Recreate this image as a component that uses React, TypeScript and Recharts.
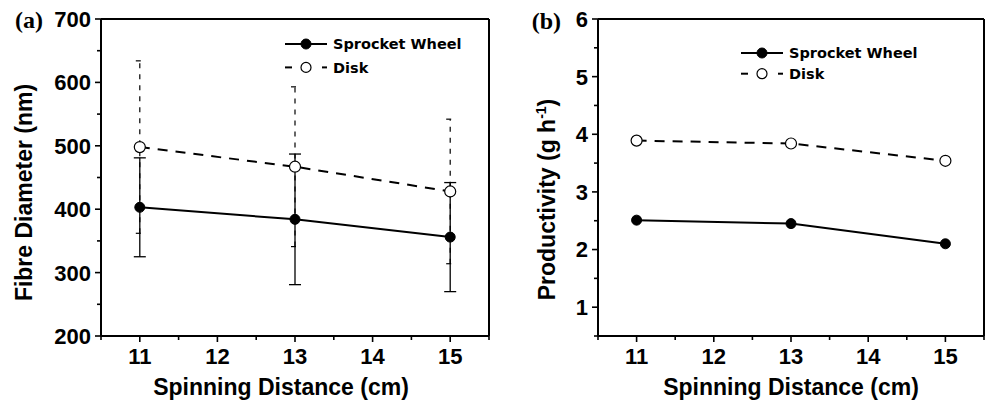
import React from 'react';
import { LineChart, Line, XAxis, YAxis, ErrorBar, Legend, Label, ReferenceLine } from 'recharts';

// ---- data ----
const distances = [11, 13, 15];
const sprocketDiameter = [403, 384, 356];
const sprocketDiameterErr = [78, 103, 86];
const diskDiameter = [498, 467, 428];
const diskDiameterErr = [136, 126, 114];
const sprocketProductivity = [2.51, 2.45, 2.1];
const diskProductivity = [3.89, 3.84, 3.54];

const distanceTicks = [10.5, 11, 11.5, 12, 12.5, 13, 13.5, 14, 14.5, 15, 15.5];
const distanceLabels = [11, 12, 13, 14, 15];
const diameterTicks = [200, 250, 300, 350, 400, 450, 500, 550, 600, 650, 700];
const diameterLabels = [200, 300, 400, 500, 600, 700];
const productivityTicks = [0.5, 1, 1.5, 2, 2.5, 3, 3.5, 4, 4.5, 5, 5.5, 6];
const productivityLabels = [1, 2, 3, 4, 5, 6];
const seriesNames = ['Sprocket Wheel', 'Disk'];

const diameterData = distances.map((x, i) => ({
  x,
  sprocket: sprocketDiameter[i],
  sprocketErr: sprocketDiameterErr[i],
  disk: diskDiameter[i],
  diskErr: diskDiameterErr[i],
}));
const productivityData = distances.map((x, i) => ({
  x,
  sprocket: sprocketProductivity[i],
  disk: diskProductivity[i],
}));

const SANS = '"Liberation Sans", Arial, sans-serif';
const SERIF = '"Liberation Serif", "Times New Roman", serif';
const LEG = '"DejaVu Sans", Verdana, sans-serif';

const makeXTick = (labels: number[]) => (props: any) => {
  const { x, y, payload } = props;
  const v = payload.value;
  const major = labels.includes(v);
  return (
    <g>
      <line x1={x} y1={y} x2={x} y2={y + (major ? 6 : 4)} stroke="#000" strokeWidth={1.6} />
      {major && (
        <text x={x} y={y + 27.5} textAnchor="middle" fontFamily={SANS} fontWeight="bold" fontSize={22} fill="#000">
          {v}
        </text>
      )}
    </g>
  );
};

const makeYTick = (labels: number[]) => (props: any) => {
  const { x, y, payload } = props;
  const v = payload.value;
  const major = labels.includes(v);
  return (
    <g>
      <line x1={x - (major ? 6 : 4)} y1={y} x2={x} y2={y} stroke="#000" strokeWidth={1.6} />
      {major && (
        <text x={x - 10} y={y} dy="0.36em" textAnchor="end" fontFamily={SANS} fontWeight="bold" fontSize={22} fill="#000">
          {v}
        </text>
      )}
    </g>
  );
};

const xTitle = (dx: number) => (props: any) => {
  const vb = props.viewBox;
  return (
    <text x={vb.x + vb.width / 2 + dx} y={vb.y + 59.3} textAnchor="middle" fontFamily={SANS} fontWeight="bold" fontSize={23} fill="#000">
      Spinning Distance (cm)
    </text>
  );
};

const yTitle = (x: number, dy: number, main: string, sup?: string, tail?: string) => (props: any) => {
  const vb = props.viewBox;
  const cy = vb.y + vb.height / 2 + dy;
  return (
    <text x={x} y={cy} transform={`rotate(-90 ${x} ${cy})`} textAnchor="middle" fontFamily={SANS} fontWeight="bold" fontSize={23} fill="#000">
      <tspan>{main}</tspan>
      {sup && (
        <tspan dy={-9} fontSize={14}>
          {sup}
        </tspan>
      )}
      {tail && <tspan dy={sup ? 9 : 0}>{tail}</tspan>}
    </text>
  );
};

const LegendBox = ({ rowGap }: { rowGap: number }) => (
  <svg width={210} height={60} style={{ display: 'block', overflow: 'visible' }}>
    <line x1={2} y1={12} x2={44} y2={12} stroke="#000" strokeWidth={2} />
    <circle cx={23} cy={12} r={5} fill="#000" stroke="#000" />
    <text x={50} y={12} dy="0.36em" fontFamily={LEG} fontWeight="bold" fontSize={14.5} fill="#000">
      {seriesNames[0]}
    </text>
    <line x1={2} y1={12 + rowGap} x2={9} y2={12 + rowGap} stroke="#000" strokeWidth={2} />
    <line x1={39} y1={12 + rowGap} x2={44} y2={12 + rowGap} stroke="#000" strokeWidth={2} />
    <circle cx={23} cy={12 + rowGap} r={5} fill="#fff" stroke="#000" strokeWidth={1.2} />
    <text x={50} y={12 + rowGap} dy="0.36em" fontFamily={LEG} fontWeight="bold" fontSize={14.5} fill="#000">
      {seriesNames[1]}
    </text>
  </svg>
);

const sprocketDot = { r: 5, fill: '#000', stroke: '#000', strokeWidth: 1, strokeDasharray: 'none' };
const diskDot = { r: 5.5, fill: '#fff', stroke: '#000', strokeWidth: 1.2, strokeDasharray: 'none' };

export default function App() {
  return (
    <div style={{ position: 'absolute', left: 0, top: 0, width: 987, height: 402, background: '#fff' }}>
      <div style={{ position: 'absolute', left: 0, top: 0 }}>
        <LineChart width={495} height={402} data={diameterData} margin={{ top: 19, right: 6, bottom: 0, left: 0 }}>
          <XAxis
            dataKey="x"
            type="number"
            domain={[10.5, 15.5]}
            ticks={distanceTicks}
            interval={0}
            height={66}
            tickSize={0}
            tickMargin={0}
            tickLine={false}
            axisLine={{ stroke: '#000', strokeWidth: 2 }}
            tick={makeXTick(distanceLabels)}
          >
            <Label content={xTitle(-14)} />
          </XAxis>
          <YAxis
            type="number"
            domain={[200, 700]}
            ticks={diameterTicks}
            interval={0}
            width={101}
            tickSize={0}
            tickMargin={0}
            tickLine={false}
            axisLine={{ stroke: '#000', strokeWidth: 2 }}
            tick={makeYTick(diameterLabels)}
          >
            <Label content={yTitle(31.7, 15, 'Fibre Diameter (nm)')} />
          </YAxis>
          <ReferenceLine y={700} stroke="#000" strokeWidth={2} ifOverflow="visible" />
          <ReferenceLine x={15.5} stroke="#000" strokeWidth={2} ifOverflow="visible" />
          <Legend
            layout="vertical"
            align="center"
            verticalAlign="middle"
            wrapperStyle={{ left: 283, top: 32, width: 210 }}
            content={() => <LegendBox rowGap={23.4} />}
          />
          <Line
            type="linear"
            dataKey="disk"
            name={seriesNames[1]}
            stroke="#000"
            strokeWidth={2}
            strokeDasharray="10 8"
            dot={diskDot}
            isAnimationActive={false}
          >
            <ErrorBar dataKey="diskErr" width={4} stroke="#000" strokeWidth={1.2} strokeDasharray="5 6" />
          </Line>
          <Line
            type="linear"
            dataKey="sprocket"
            name={seriesNames[0]}
            stroke="#000"
            strokeWidth={2}
            dot={sprocketDot}
            isAnimationActive={false}
          >
            <ErrorBar dataKey="sprocketErr" width={6} stroke="#000" strokeWidth={1.3} />
          </Line>
          <text x={15} y={28} fontFamily={SERIF} fontWeight="bold" fontSize={24} fill="#000">
            (a)
          </text>
        </LineChart>
      </div>
      <div style={{ position: 'absolute', left: 495, top: 0 }}>
        <LineChart width={492} height={402} data={productivityData} margin={{ top: 19, right: 3, bottom: 0, left: 0 }}>
          <XAxis
            dataKey="x"
            type="number"
            domain={[10.5, 15.5]}
            ticks={distanceTicks}
            interval={0}
            height={66}
            tickSize={0}
            tickMargin={0}
            tickLine={false}
            axisLine={{ stroke: '#000', strokeWidth: 2 }}
            tick={makeXTick(distanceLabels)}
          >
            <Label content={xTitle(0)} />
          </XAxis>
          <YAxis
            type="number"
            domain={[0.5, 6]}
            ticks={productivityTicks}
            interval={0}
            width={103}
            tickSize={0}
            tickMargin={0}
            tickLine={false}
            axisLine={{ stroke: '#000', strokeWidth: 2 }}
            tick={makeYTick(productivityLabels)}
          >
            <Label content={yTitle(60, 22, 'Productivity (g h', '-1', ')')} />
          </YAxis>
          <ReferenceLine y={6} stroke="#000" strokeWidth={2} ifOverflow="visible" />
          <ReferenceLine x={15.5} stroke="#000" strokeWidth={2} ifOverflow="visible" />
          <Legend
            layout="vertical"
            align="center"
            verticalAlign="middle"
            wrapperStyle={{ left: 244, top: 41, width: 210 }}
            content={() => <LegendBox rowGap={20.7} />}
          />
          <Line
            type="linear"
            dataKey="disk"
            name={seriesNames[1]}
            stroke="#000"
            strokeWidth={2}
            strokeDasharray="10 8"
            dot={diskDot}
            isAnimationActive={false}
          />
          <Line
            type="linear"
            dataKey="sprocket"
            name={seriesNames[0]}
            stroke="#000"
            strokeWidth={2}
            dot={sprocketDot}
            isAnimationActive={false}
          />
          <text x={36.7} y={29} fontFamily={SERIF} fontWeight="bold" fontSize={24} fill="#000">
            (b)
          </text>
        </LineChart>
      </div>
    </div>
  );
}
